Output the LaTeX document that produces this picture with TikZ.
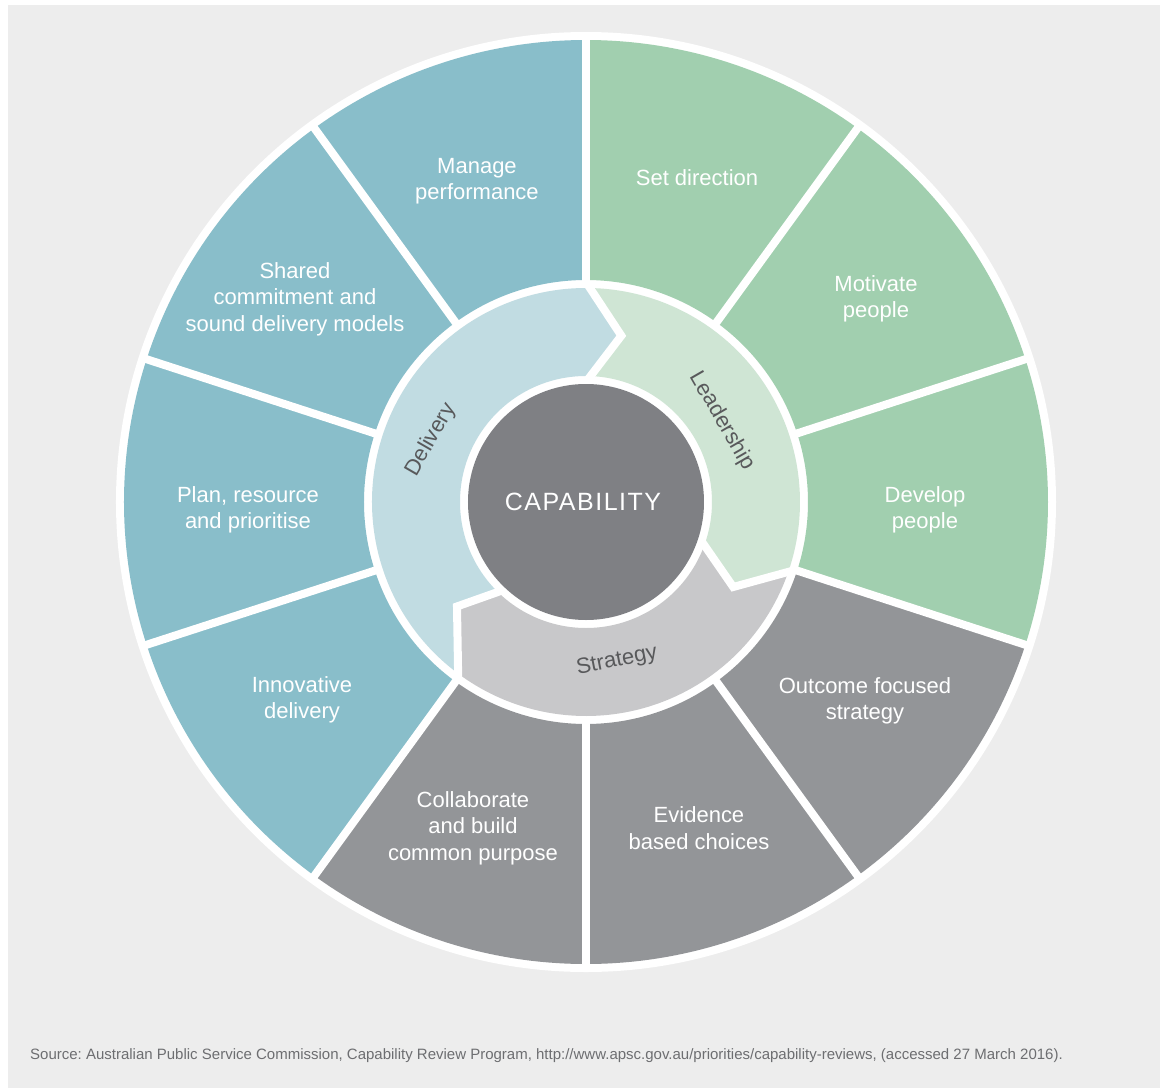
\documentclass[tikz,border=0pt]{standalone}
\usepackage{fontspec}
\setmainfont{Liberation Sans}
\frenchspacing
\definecolor{bgc}{HTML}{EDEDED}
\definecolor{blueo}{HTML}{89BECA}
\definecolor{greeno}{HTML}{A1CFAF}
\definecolor{grayo}{HTML}{939598}
\definecolor{deliv}{HTML}{C1DCE2}
\definecolor{lead}{HTML}{CFE5D4}
\definecolor{strat}{HTML}{C8C8CA}
\definecolor{centerc}{HTML}{7F8084}
\definecolor{labc}{HTML}{58595B}
\definecolor{footc}{HTML}{6D6E71}
\tikzset{
  seglabel/.style={text=white, align=center, font=\fontsize{22}{26.5}\selectfont, inner sep=0pt},
  ringlabel/.style={text=labc, font=\fontsize{22}{26.5}\selectfont, inner sep=0pt},
  gap/.style={draw=white, line width=8pt, line join=miter},
}
\begin{document}
\begin{tikzpicture}[x=1pt,y=1pt]
\useasboundingbox (-586,-586) rectangle (574,502);
\fill[bgc] (-578,-586) rectangle (574,497);
\fill[white] (0,0) circle (470);
% outer segments
\foreach \a/\c in {90/blueo,126/blueo,162/blueo,198/blueo,234/grayo,270/grayo,306/grayo,342/greeno,18/greeno,54/greeno}
  \fill[\c] (\a:222) arc[start angle=\a, end angle={\a+36}, radius=222]
     -- ({\a+36}:462) arc[start angle={\a+36}, end angle=\a, radius=462] -- cycle;
\foreach \a in {90,126,162,198,234,270,306,342,18,54}
  \draw[gap] (\a:214) -- (\a:468);
% middle ring
\fill[lead] (90:214) arc[start angle=90, end angle=-18, radius=214]
   -- (-30:170) -- (-18:126) arc[start angle=-18, end angle=90, radius=126]
   -- (78:170) -- cycle;
\fill[strat] (-18:214) arc[start angle=-18, end angle=-125.5, radius=214]
   -- (219:166) -- (227:126) arc[start angle=-133, end angle=-18, radius=126]
   -- (-30:170) -- cycle;
\fill[deliv] (234.5:214) arc[start angle=234.5, end angle=90, radius=214]
   -- (78:170) -- (90:126) arc[start angle=90, end angle=227, radius=126]
   -- (219:166) -- cycle;
\draw[gap] (90:220) -- (78:170) -- (90:120);
\draw[gap] (-18:220) -- (-30:170) -- (-18:120);
\draw[gap] (234.5:220) -- (219:166) -- (227:120);
% centre
\fill[centerc] (0,0) circle (118);
\node[text=white, inner sep=0pt, font=\fontsize{25}{30}\selectfont\addfontfeatures{LetterSpace=6}] (cap) at (-3,0) {CAPABILITY};
% ring labels
\node[ringlabel, rotate=60] (delivery) at (-155,62) {Delivery};
\node[ringlabel, rotate=-60] (leadership) at (136,81) {Leadership};
\node[ringlabel, rotate=11] (strategy) at (31,-159) {Strategy};
% segment labels
\node[seglabel] (manage) at (-109,321) {Manage\\performance};
\node[seglabel] (setdir) at (111,324) {Set direction};
\node[seglabel] (motivate) at (290,203) {Motivate\\people};
\node[seglabel] (develop) at (339,-8) {Develop\\people};
\node[seglabel] (outcome) at (279,-199) {Outcome focused\\strategy};
\node[seglabel] (evidence) at (113,-326) {Evidence\\based choices};
\node[seglabel] (collab) at (-113,-326) {Collaborate\\and build\\common purpose};
\node[seglabel] (innov) at (-284,-198) {Innovative\\delivery};
\node[seglabel] (plan) at (-338,-8) {Plan, resource\\and prioritise};
\node[seglabel] (shared) at (-291,203) {Shared\\commitment and\\sound delivery models};
% footer
\node[anchor=west, text=footc, inner sep=0pt, font=\fontsize{15}{18}\selectfont] (source) at (-556,-554) {Source: Australian Public Service Commission, Capability Review Program, http://www.apsc.gov.au/priorities/capability-reviews, (accessed 27 March 2016).};
\end{tikzpicture}
\end{document}
